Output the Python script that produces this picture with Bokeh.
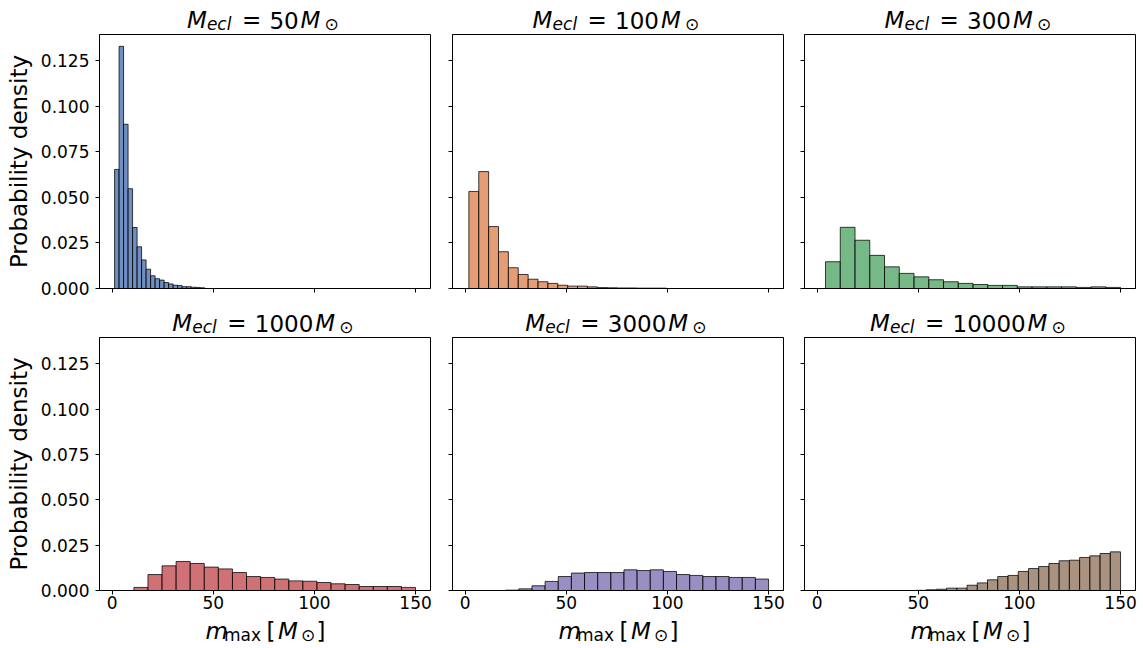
import numpy as np
from bokeh.plotting import figure
from bokeh.layouts import gridplot
from bokeh.models import (Range1d, FixedTicker, NumeralTickFormatter,
                          CustomJSTickFormatter, ColumnDataSource)
from bokeh.core.properties import value
from bokeh.embed import file_html
from bokeh.resources import INLINE

# ---------------- data ----------------
cluster_masses = ["50", "100", "300", "1000", "3000", "10000"]
colors = ["#4C72B0", "#DD8452", "#55A868", "#C44E52", "#8172B3", "#937860"]

bin_lo = [1.15, 1.8, 4.1, 10.7, 20.0, 48.8]
bin_hi = [45.7, 99.5, 150.0, 150.0, 150.0, 150.0]

dens_50 = [0.0654, 0.1330, 0.0902, 0.0548, 0.0335, 0.0229, 0.0157, 0.0106, 0.0070, 0.0054,
           0.0046, 0.0033, 0.0025, 0.0018, 0.0016, 0.0010, 0.0010, 0.0007, 0.0006, 0.0004]
dens_100 = [0.0533, 0.0642, 0.0340, 0.0202, 0.0114, 0.0077, 0.0051, 0.0037, 0.0028, 0.0018,
            0.0013, 0.0013, 0.0009, 0.0005, 0.0004, 0.0003, 0.0003, 0.0002, 0.0002, 0.0002]
dens_300 = [0.0147, 0.0336, 0.0265, 0.0182, 0.0119, 0.0083, 0.0064, 0.0048, 0.0037, 0.0028,
            0.0022, 0.0017, 0.0017, 0.0009, 0.0009, 0.0009, 0.0009, 0.0006, 0.0009, 0.0006]
dens_1000 = [0.0017, 0.0088, 0.0136, 0.0160, 0.0149, 0.0129, 0.0119, 0.0099, 0.0077, 0.0072,
             0.0063, 0.0053, 0.0051, 0.0044, 0.0037, 0.0033, 0.0022, 0.0022, 0.0022, 0.0017]
dens_3000 = [0.0002, 0.0009, 0.0026, 0.0050, 0.0077, 0.0096, 0.0099, 0.0099, 0.0099, 0.0114,
             0.0110, 0.0114, 0.0105, 0.0088, 0.0083, 0.0077, 0.0077, 0.0072, 0.0072, 0.0063]
dens_10000 = [0.0001, 0.0004, 0.0007, 0.0013, 0.0013, 0.0029, 0.0042, 0.0059, 0.0077, 0.0083,
              0.0105, 0.0121, 0.0132, 0.0149, 0.0164, 0.0167, 0.0182, 0.0191, 0.0204, 0.0213]
densities = [dens_50, dens_100, dens_300, dens_1000, dens_3000, dens_10000]

x_ticks = [0, 50, 100, 150]
y_ticks = [0.0, 0.025, 0.05, 0.075, 0.1, 0.125]
y_label = "Probability density"

# ---------------- layout ----------------
FONT = "DejaVu Sans"
xr = Range1d(-6.3, 157.4)
yr = Range1d(0, 0.1395)
xc = (xr.start + xr.end) / 2
empty_fmt = CustomJSTickFormatter(code="return ''")

LEFT = [99, 11, 11]
RIGHT = [11, 10, 8]
FW = 331
BASE_SHIFT = 7  # compensation for text box baseline placement
SUB = "17px"


def strip(col, h):
    s = figure(width=LEFT[col] + FW + RIGHT[col], height=h,
               x_range=xr, y_range=Range1d(0, h), output_backend="svg",
               toolbar_location=None, tools="", title=None,
               x_axis_location=None, y_axis_location=None,
               min_border_left=LEFT[col], min_border_right=RIGHT[col],
               min_border_top=0, min_border_bottom=0)
    s.xgrid.visible = False
    s.ygrid.visible = False
    s.outline_line_color = None
    s.background_fill_color = "white"
    s.border_fill_color = "white"
    return s


def put(s, pieces, base):
    for txt, xo, yo, fs, st in pieces:
        s.text(x=[xc], y=[base + BASE_SHIFT + yo], text=[txt], x_offset=xo,
               text_font=value(FONT), text_font_size=fs, text_font_style=st,
               text_color="black", text_align="left", text_baseline="alphabetic")


def title_strip(i, h, base):
    s = strip(i % 3, h)
    n = len(cluster_masses[i])
    total = 127 + n * 14.6
    x0 = -total / 2
    m2 = x0 + 84.5 + n * 14.6
    pieces = [
        ("M", x0, 0, "23px", "italic"),
        ("ecl", x0 + 20, -4, SUB, "italic"),
        ("=", x0 + 55, 0, "23px", "normal"),
        (cluster_masses[i], x0 + 82.5, 0, "23px", "normal"),
        ("M", m2, 0, "23px", "italic"),
        ("\u2299", m2 + 24, -3.5, SUB, "normal"),
    ]
    put(s, pieces, base)
    return s


def xlabel_strip(col, h, base):
    s = strip(col, h)
    pieces = [
        ("m", -59.5, 0, "23px", "italic"),
        ("max", -41, -3.5, SUB, "normal"),
        ("[", 1.5, 0, "23px", "normal"),
        ("M", 13, 0, "23px", "italic"),
        ("\u2299", 36, -3.5, SUB, "normal"),
        ("]", 51.5, 0, "23px", "normal"),
    ]
    put(s, pieces, base)
    return s


def panel(i):
    row, col = divmod(i, 3)
    top = 1
    fh = [254, 253][row]
    bottom = [14, 26][row]
    p = figure(width=LEFT[col] + FW + RIGHT[col], height=top + fh + bottom,
               x_range=xr, y_range=yr, output_backend="svg",
               toolbar_location=None, tools="", title=None,
               min_border_left=LEFT[col], min_border_right=RIGHT[col],
               min_border_top=top, min_border_bottom=bottom)
    p.xgrid.visible = False
    p.ygrid.visible = False
    p.outline_line_color = "black"
    p.outline_line_width = 1
    p.background_fill_color = "white"
    p.border_fill_color = "white"

    dens = densities[i]
    edges = np.linspace(bin_lo[i], bin_hi[i], len(dens) + 1)
    src = ColumnDataSource(dict(left=edges[:-1], right=edges[1:], top=dens))
    p.quad(left="left", right="right", top="top", bottom=0, source=src,
           fill_color=colors[i], fill_alpha=0.8,
           line_color="black", line_alpha=0.75, line_width=1)

    for ax in (p.xaxis[0], p.yaxis[0]):
        ax.axis_line_color = "black"
        ax.axis_line_width = 1
        ax.major_tick_line_color = "black"
        ax.major_tick_out = 4
        ax.major_tick_in = 0
        ax.minor_tick_line_color = None
        ax.major_label_text_font = FONT
        ax.major_label_text_color = "black"
        ax.major_label_text_font_size = "17px"
    p.xaxis.major_label_standoff = 1
    p.yaxis.major_label_standoff = 6
    p.xaxis.ticker = FixedTicker(ticks=x_ticks)
    p.yaxis.ticker = FixedTicker(ticks=y_ticks)
    p.yaxis.formatter = NumeralTickFormatter(format="0.000")

    if col != 0:
        p.yaxis.formatter = empty_fmt
        p.yaxis.major_label_text_font_size = "1px"
        p.yaxis.major_label_standoff = 0
    else:
        p.yaxis.axis_label = y_label
        p.yaxis.axis_label_text_font = FONT
        p.yaxis.axis_label_text_font_size = "23px"
        p.yaxis.axis_label_text_font_style = "normal"
        p.yaxis.axis_label_text_color = "black"
        p.yaxis.axis_label_standoff = 6
    if row == 0:
        p.xaxis.formatter = empty_fmt
        p.xaxis.major_label_text_font_size = "1px"
        p.xaxis.major_label_standoff = 0
    return p


rows = [
    [title_strip(i, 33, 6.5) for i in range(3)],
    [panel(i) for i in range(3)],
    [title_strip(i, 34, 6.5) for i in range(3, 6)],
    [panel(i) for i in range(3, 6)],
    [xlabel_strip(c, 32, 10.5) for c in range(3)],
]

grid = gridplot(rows, toolbar_location=None)

with open("out.html", "w") as f:
    f.write(file_html(grid, INLINE))
